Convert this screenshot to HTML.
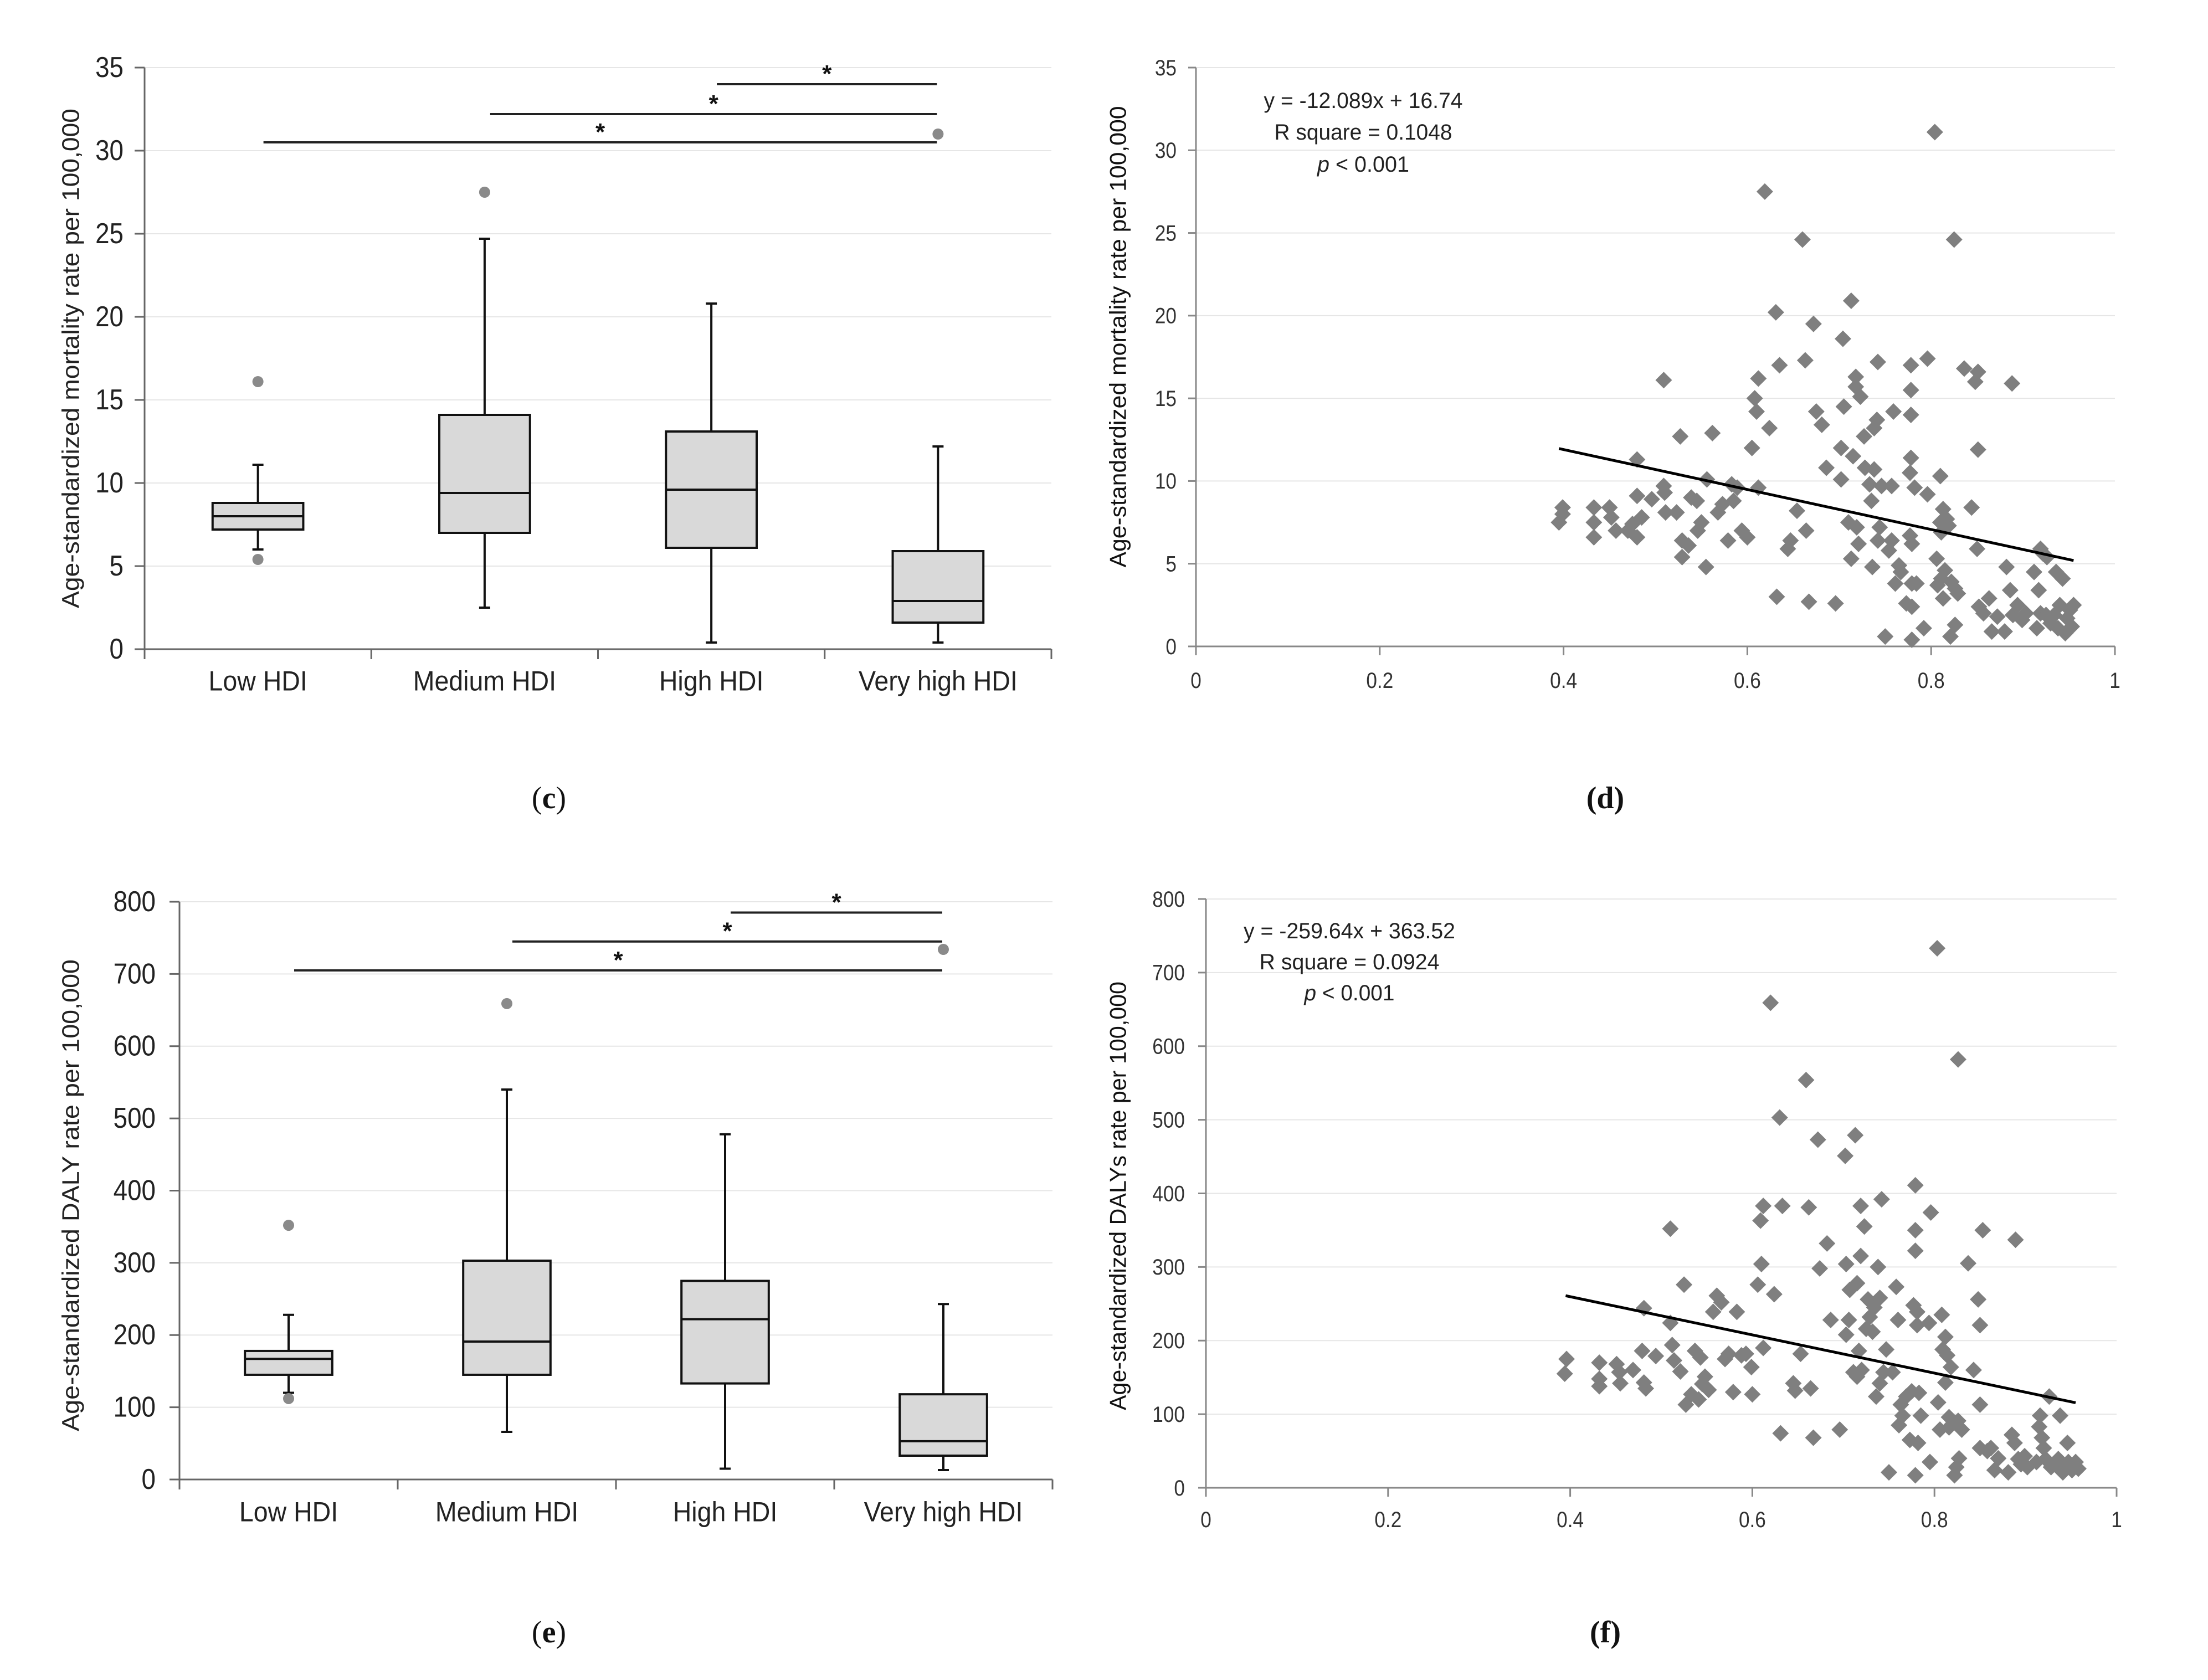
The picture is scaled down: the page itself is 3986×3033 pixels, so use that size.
<!DOCTYPE html>
<html><head><meta charset="utf-8"><title>HDI charts</title>
<style>html,body{margin:0;padding:0;background:#fff}svg{display:block}</style></head>
<body>
<svg id="fig" xmlns="http://www.w3.org/2000/svg" width="3986" height="3033" viewBox="0 0 3986 3033">
<rect width="3986" height="3033" fill="#fff"/>
</svg>
<script>
// ---------- data ----------
const boxCategories = ['Low HDI','Medium HDI','High HDI','Very high HDI'];
// [min, q1, median, q3, max]
const mortBoxes = [[6.0,7.2,8.0,8.8,11.1],[2.5,7.0,9.4,14.1,24.7],[0.4,6.1,9.6,13.1,20.8],[0.4,1.6,2.9,5.9,12.2]];
const mortOutliers = [[0,16.1],[0,5.4],[1,27.5],[3,31.0]];
const mortSig = [[2,3,34.0],[1,3,32.2],[0,3,30.5]];
const mortTicks = [0,5,10,15,20,25,30,35];
const dalyBoxes = [[120,145,167,178,228],[66,145,191,303,540],[15,133,222,275,478],[13,33,53,118,243]];
const dalyOutliers = [[0,352],[0,112],[1,659],[3,734]];
const dalySig = [[2,3,785],[1,3,745],[0,3,705]];
const dalyTicks = [0,100,200,300,400,500,600,700,800];
const hdiTicks = [0,0.2,0.4,0.6,0.8,1];
const mortX = [0.395,0.399,0.399,0.433,0.433,0.433,0.45,0.452,0.457,0.47,0.475,0.48,0.48,0.48,0.485,0.496,0.509,0.509,0.51,0.511,0.523,0.527,0.529,0.529,0.536,0.539,0.545,0.546,0.55,0.555,0.556,0.562,0.568,0.573,0.579,0.583,0.585,0.589,0.594,0.6,0.605,0.608,0.61,0.612,0.612,0.624,0.619,0.631,0.632,0.635,0.644,0.647,0.654,0.66,0.663,0.664,0.667,0.672,0.675,0.681,0.686,0.696,0.702,0.704,0.705,0.702,0.71,0.713,0.715,0.713,0.718,0.718,0.719,0.723,0.721,0.727,0.728,0.733,0.735,0.738,0.738,0.736,0.741,0.742,0.742,0.744,0.746,0.75,0.754,0.757,0.759,0.757,0.761,0.765,0.767,0.773,0.777,0.778,0.778,0.778,0.778,0.777,0.779,0.779,0.779,0.779,0.782,0.784,0.792,0.796,0.796,0.804,0.806,0.807,0.81,0.81,0.811,0.811,0.813,0.815,0.813,0.817,0.819,0.821,0.822,0.825,0.826,0.826,0.829,0.836,0.844,0.848,0.85,0.851,0.851,0.852,0.857,0.863,0.866,0.872,0.88,0.882,0.886,0.888,0.889,0.894,0.899,0.903,0.912,0.915,0.917,0.919,0.919,0.922,0.925,0.926,0.93,0.934,0.936,0.938,0.94,0.943,0.946,0.948,0.951,0.953,0.955];
const mortY = [7.5,8.4,8.0,8.4,7.5,6.6,8.4,7.8,7.0,7.0,7.4,9.1,6.6,11.3,7.8,8.9,16.1,9.7,9.3,8.1,8.1,12.7,6.4,5.4,6.1,9.0,8.8,7.0,7.5,4.8,10.1,12.9,8.1,8.6,6.4,9.8,8.8,9.6,7.0,6.6,12.0,15.0,14.2,16.2,9.6,13.2,27.5,20.2,3.0,17.0,5.9,6.4,8.2,24.6,17.3,7.0,2.7,19.5,14.2,13.4,10.8,2.6,12.0,18.6,14.5,10.1,7.5,20.9,11.5,5.3,16.3,15.7,7.2,15.1,6.2,12.7,10.8,9.8,8.8,13.2,10.7,4.8,13.7,17.2,6.4,7.2,9.7,0.6,5.8,6.4,14.2,9.7,3.8,4.9,4.5,2.6,6.7,17.0,15.5,14.0,11.4,10.5,6.2,3.8,2.4,0.4,9.6,3.8,1.1,9.2,17.4,31.1,5.3,3.7,10.3,7.5,6.9,4.1,8.3,4.6,2.9,7.7,7.3,0.6,3.9,24.6,3.5,1.3,3.2,16.8,8.4,16.0,5.9,16.6,11.9,2.4,2.0,2.9,0.9,1.8,0.9,4.8,3.4,15.9,1.9,2.5,1.6,2.0,4.5,1.1,3.4,2.0,5.9,5.6,1.9,5.4,1.4,1.9,4.5,1.1,2.5,4.1,0.8,1.7,2.2,1.2,2.5];
const dalyX = [0.394,0.396,0.432,0.432,0.432,0.451,0.454,0.455,0.469,0.479,0.481,0.481,0.483,0.494,0.51,0.51,0.512,0.514,0.521,0.525,0.527,0.533,0.537,0.541,0.543,0.545,0.548,0.552,0.557,0.561,0.566,0.57,0.574,0.579,0.583,0.588,0.593,0.599,0.6,0.606,0.609,0.61,0.612,0.612,0.62,0.624,0.63,0.631,0.633,0.645,0.647,0.653,0.659,0.662,0.664,0.667,0.674,0.672,0.682,0.686,0.696,0.702,0.703,0.703,0.706,0.707,0.711,0.713,0.715,0.715,0.717,0.719,0.719,0.72,0.723,0.725,0.727,0.729,0.732,0.734,0.736,0.738,0.74,0.74,0.742,0.744,0.747,0.75,0.754,0.758,0.76,0.761,0.763,0.765,0.769,0.773,0.775,0.777,0.779,0.779,0.779,0.779,0.781,0.781,0.782,0.783,0.785,0.794,0.795,0.796,0.803,0.804,0.806,0.808,0.809,0.812,0.812,0.814,0.816,0.816,0.818,0.822,0.824,0.826,0.826,0.827,0.83,0.837,0.843,0.848,0.85,0.85,0.85,0.853,0.858,0.862,0.866,0.87,0.881,0.885,0.888,0.889,0.892,0.895,0.899,0.902,0.912,0.915,0.916,0.918,0.92,0.922,0.926,0.928,0.932,0.936,0.938,0.941,0.946,0.947,0.951,0.955,0.958];
const dalyY = [155,175,170,148,138,168,157,142,160,186,244,143,135,179,352,224,194,173,158,276,113,127,186,120,177,141,151,133,239,261,252,175,182,130,239,180,182,164,127,276,363,304,383,190,659,263,503,74,383,142,132,182,554,381,135,68,298,473,332,228,79,451,304,208,228,269,157,479,278,151,186,383,315,160,355,216,256,232,212,245,124,300,258,142,392,157,188,21,157,273,228,85,113,98,124,65,131,248,411,350,322,17,239,221,61,129,98,224,35,374,733,116,79,235,188,205,143,180,96,82,164,17,28,582,91,40,79,305,160,256,221,113,54,350,50,54,24,40,21,72,61,337,39,32,43,28,35,83,98,68,54,39,124,28,32,39,98,21,61,35,24,35,26];
const mortFit = [-12.089, 16.74];
const dalyFit = [-259.64, 363.52];
const fitRange = [0.395, 0.955];

// ---------- helpers ----------
const NS = 'http://www.w3.org/2000/svg';
const svg = document.getElementById('fig');
function mk(tag, attrs, parent) {
  const e = document.createElementNS(NS, tag);
  for (const k in attrs) e.setAttribute(k, attrs[k]);
  (parent || svg).appendChild(e);
  return e;
}
function txt(str, attrs, parent) {
  const e = mk('text', attrs, parent);
  e.textContent = str;
  return e;
}
const ARIAL = '"Liberation Sans", Arial, sans-serif';

// ---------- box plot panel ----------
function boxPanel(P) {
  const g = mk('g', {});
  
  
  const ys = v => P.yb - (v / P.max) * (P.yb - P.yt);
  const band = (P.x1 - P.x0) / boxCategories.length;
  const xc = i => P.x0 + (i + 0.5) * band;
  P.ticks.forEach(t => {
    const y = ys(t);
    if (t > 0) {
      const gl = mk('line', {x1: P.x0, x2: P.x1, y1: y, y2: y, stroke: '#e6e6e6', 'stroke-width': 2}, g);
      
      
    }
    const tk = mk('line', {x1: P.x0 - 18, x2: P.x0, y1: y, y2: y, stroke: '#666', 'stroke-width': 3}, g);
    
    
    const tl = txt(String(t), {x: 0, y: 0, transform: `translate(${P.x0 - P.lblGap},${y}) scale(0.88,1)`, 'text-anchor': 'end', 'dominant-baseline': 'central', 'font-family': ARIAL, 'font-size': 52, fill: '#222'}, g);
    
    
  });
  const ya = mk('line', {x1: P.x0, x2: P.x0, y1: P.yt, y2: P.yb + 18, stroke: '#666', 'stroke-width': 3}, g);
  
  
  const xa = mk('line', {x1: P.x0 - 18, x2: P.x1, y1: P.yb, y2: P.yb, stroke: '#666', 'stroke-width': 3}, g);
  
  
  for (let i = 1; i <= boxCategories.length; i++) {
    const x = P.x0 + i * band;
    const dt = mk('line', {x1: x, x2: x, y1: P.yb, y2: P.yb + 18, stroke: '#666', 'stroke-width': 3}, g);
    
    
  }
  boxCategories.forEach((c, i) => {
    const cl = txt(c, {x: 0, y: 0, transform: `translate(${xc(i)},${P.catY}) scale(0.93,1)`, 'text-anchor': 'middle', 'dominant-baseline': 'central', 'font-family': ARIAL, 'font-size': 50, fill: '#222'}, g);
    
    
  });
  const yt = txt(P.ytitle, {x: 0, y: 0, transform: `translate(${P.titleX},${P.titleCY}) rotate(-90)`, 'text-anchor': 'middle', 'dominant-baseline': 'central', 'font-family': ARIAL, 'font-size': 44, fill: '#222', textLength: P.titleLen, lengthAdjust: 'spacingAndGlyphs'}, g);
  
  
  const bw = band * 0.4;
  P.boxes.forEach((b, i) => {
    const x = xc(i);
    const bg = mk('g', {}, g);
    
    
    const w1 = mk('line', {x1: x, x2: x, y1: ys(b[3]), y2: ys(b[4]), stroke: '#111', 'stroke-width': 4}, bg);
    
    
    const w2 = mk('line', {x1: x, x2: x, y1: ys(b[1]), y2: ys(b[0]), stroke: '#111', 'stroke-width': 4}, bg);
    
    
    [b[0], b[4]].forEach(v => {
      const cap = mk('line', {x1: x - 10, x2: x + 10, y1: ys(v), y2: ys(v), stroke: '#111', 'stroke-width': 4}, bg);
      
      
    });
    const r = mk('rect', {x: x - bw / 2, y: ys(b[3]), width: bw, height: ys(b[1]) - ys(b[3]), fill: '#d9d9d9', stroke: '#111', 'stroke-width': 4}, bg);
    
    
    const m = mk('line', {x1: x - bw / 2, x2: x + bw / 2, y1: ys(b[2]), y2: ys(b[2]), stroke: '#111', 'stroke-width': 4}, bg);
    
    
  });
  P.outliers.forEach(o => {
    const c = mk('circle', {cx: xc(o[0]), cy: ys(o[1]), r: 10, fill: '#8a8a8a'}, g);
    
    
  });
  P.sig.forEach(s => {
    const y = ys(s[2]);
    const x1 = xc(s[0]) + 10, x2 = xc(s[1]) - 2;
    const l = mk('line', {x1: x1, x2: x2, y1: y, y2: y, stroke: '#222', 'stroke-width': 4}, g);
    
    
    const a = txt('*', {x: (x1 + x2) / 2, y: y - 4, 'text-anchor': 'middle', 'font-family': ARIAL, 'font-size': 44, 'font-weight': 'bold', fill: '#111'}, g);
    
    
  });
  const cap = txt('(', {x: P.capX, y: P.capY, 'text-anchor': 'middle', 'dominant-baseline': 'central', 'font-family': '"Liberation Serif", serif', 'font-size': 56, fill: '#111'});
  
  
  const ts = mk('tspan', {'font-weight': 'bold'}, cap); ts.textContent = P.letter;
  const te = mk('tspan', {}, cap); te.textContent = ')';
}

// ---------- scatter panel ----------
function scatterPanel(P) {
  const g = mk('g', {});
  
  
  const ys = v => P.yb - (v / P.max) * (P.yb - P.yt);
  const xs = v => P.x0 + v * (P.x1 - P.x0);
  P.ticks.forEach(t => {
    const y = ys(t);
    if (t > 0) {
      const gl = mk('line', {x1: P.x0, x2: P.x1, y1: y, y2: y, stroke: '#e6e6e6', 'stroke-width': 2}, g);
      
      
    }
    const tk = mk('line', {x1: P.x0 - 14, x2: P.x0, y1: y, y2: y, stroke: '#888', 'stroke-width': 3}, g);
    
    
    const tl = txt(String(t), {x: 0, y: 0, transform: `translate(${P.lblX},${y}) scale(0.88,1)`, 'text-anchor': 'end', 'dominant-baseline': 'central', 'font-family': ARIAL, 'font-size': 40, fill: '#333'}, g);
    
    
  });
  hdiTicks.forEach(t => {
    const x = xs(t);
    const tk = mk('line', {x1: x, x2: x, y1: P.yb, y2: P.yb + 16, stroke: '#888', 'stroke-width': 3}, g);
    
    
    const tl = txt(String(t), {x: 0, y: 0, transform: `translate(${x},${P.xlblY}) scale(0.88,1)`, 'text-anchor': 'middle', 'dominant-baseline': 'central', 'font-family': ARIAL, 'font-size': 40, fill: '#333'}, g);
    
    
  });
  const ya = mk('line', {x1: P.x0, x2: P.x0, y1: P.yt, y2: P.yb + 16, stroke: '#888', 'stroke-width': 3}, g);
  
  
  const xa = mk('line', {x1: P.x0 - 14, x2: P.x1, y1: P.yb, y2: P.yb, stroke: '#888', 'stroke-width': 3}, g);
  
  
  const yt = txt(P.ytitle, {x: 0, y: 0, transform: `translate(${P.titleX},${P.titleCY}) rotate(-90)`, 'text-anchor': 'middle', 'dominant-baseline': 'central', 'font-family': ARIAL, 'font-size': 42, fill: '#111', textLength: P.titleLen, lengthAdjust: 'spacingAndGlyphs'}, g);
  
  
  P.xv.forEach((xv, i) => {
    const x = xs(xv), y = ys(P.yv[i]);
    const d = mk('polygon', {points: `${x},${y - 15} ${x + 15},${y} ${x},${y + 15} ${x - 15},${y}`, fill: '#7f7f7f'}, g);
    
    
  });
  const fl = mk('line', {x1: xs(fitRange[0]), y1: ys(P.fit[0] * fitRange[0] + P.fit[1]), x2: xs(fitRange[1]), y2: ys(P.fit[0] * fitRange[1] + P.fit[1]), stroke: '#000', 'stroke-width': 5}, g);
  
  
  const e1 = txt(P.eq[0], {x: P.eqX, y: P.eqY[0], 'text-anchor': 'middle', 'dominant-baseline': 'central', 'font-family': ARIAL, 'font-size': 40, fill: '#222', textLength: P.eqLen[0], lengthAdjust: 'spacingAndGlyphs'}, g);
  
  
  const e2 = txt(P.eq[1], {x: P.eqX, y: P.eqY[1], 'text-anchor': 'middle', 'dominant-baseline': 'central', 'font-family': ARIAL, 'font-size': 40, fill: '#222', textLength: P.eqLen[1], lengthAdjust: 'spacingAndGlyphs'}, g);
  
  
  const e3 = txt('', {x: P.eqX, y: P.eqY[2], 'text-anchor': 'middle', 'dominant-baseline': 'central', 'font-family': ARIAL, 'font-size': 40, fill: '#222', textLength: P.eqLen[2], lengthAdjust: 'spacingAndGlyphs'}, g);
  
  
  const pi = mk('tspan', {'font-style': 'italic'}, e3); pi.textContent = 'p';
  const pr = mk('tspan', {}, e3); pr.textContent = ' < 0.001';
  const cap = txt('(' + P.letter + ')', {x: P.capX, y: P.capY, 'text-anchor': 'middle', 'dominant-baseline': 'central', 'font-family': '"Liberation Serif", serif', 'font-size': 56, 'font-weight': 'bold', fill: '#111'});
  
  
}

boxPanel({name: 'panel-c-mortality-boxplot', x0: 261, x1: 1898, yt: 122, yb: 1172, max: 35, ticks: mortTicks, lblGap: 38, catY: 1230,
  boxes: mortBoxes, outliers: mortOutliers, sig: mortSig, ytitle: 'Age-standardized  mortality rate per 100,000',
  titleX: 128, titleCY: 647, titleLen: 902, capX: 991, capY: 1441, letter: 'c'});
boxPanel({name: 'panel-e-daly-boxplot', x0: 324, x1: 1900, yt: 1628, yb: 2671, max: 800, ticks: dalyTicks, lblGap: 43, catY: 2730,
  boxes: dalyBoxes, outliers: dalyOutliers, sig: dalySig, ytitle: 'Age-standardized  DALY rate per 100,000',
  titleX: 128, titleCY: 2158, titleLen: 852, capX: 991, capY: 2947, letter: 'e'});
scatterPanel({name: 'panel-d-mortality-scatter', x0: 2159, x1: 3818, yt: 122, yb: 1167, max: 35, ticks: mortTicks, lblX: 2124, xlblY: 1228,
  xv: mortX, yv: mortY, fit: mortFit, ytitle: 'Age-standardized  mortality rate per 100,000', titleX: 2018, titleCY: 608, titleLen: 833,
  eq: ['y = -12.089x + 16.74', 'R square = 0.1048'], eqX: 2461, eqY: [182, 239, 297], eqLen: [359, 321, 166], capX: 2898, capY: 1441, letter: 'd'});
scatterPanel({name: 'panel-f-daly-scatter', x0: 2177, x1: 3821, yt: 1623, yb: 2686, max: 800, ticks: dalyTicks, lblX: 2139, xlblY: 2743,
  xv: dalyX, yv: dalyY, fit: dalyFit, ytitle: 'Age-standardized  DALYs rate  per 100,000', titleX: 2018, titleCY: 2159, titleLen: 774,
  eq: ['y = -259.64x + 363.52', 'R square = 0.0924'], eqX: 2436, eqY: [1681, 1737, 1793], eqLen: [382, 325, 163], capX: 2898, capY: 2947, letter: 'f'});
</script>
</body></html>
